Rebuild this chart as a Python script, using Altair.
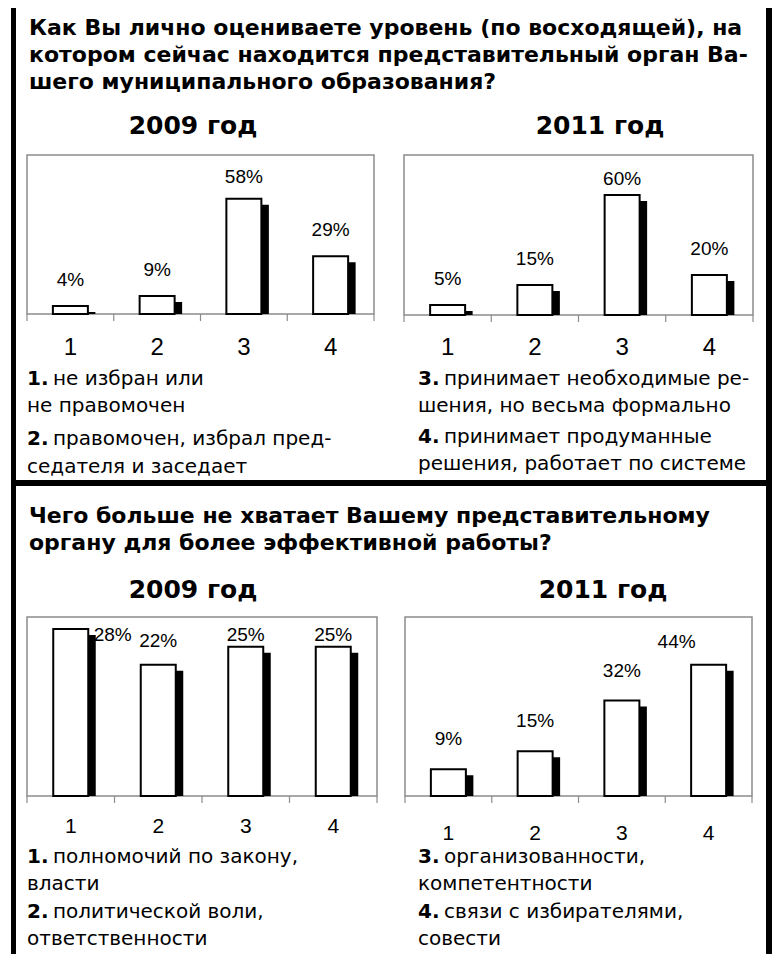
import altair as alt
import pandas as pd

# ---------------- data ----------------
cats = ["1", "2", "3", "4"]
level_2009 = [4, 9, 58, 29]
level_2011 = [5, 15, 60, 20]
lack_2009 = [28, 22, 25, 25]
lack_2011 = [9, 15, 32, 44]

title_top = [
    "Как Вы лично оцениваете уровень (по восходящей), на",
    "котором сейчас находится представительный орган Ва-",
    "шего муниципального образования?",
]
title_bottom = [
    "Чего больше не хватает Вашему представительному",
    "органу для более эффективной работы?",
]
years = ["2009 год", "2011 год"]
legend_top = [
    ("1.", ["не избран или", "не правомочен"]),
    ("2.", ["правомочен, избрал пред-", "седателя и заседает"]),
    ("3.", ["принимает необходимые ре-", "шения, но весьма формально"]),
    ("4.", ["принимает продуманные", "решения, работает по системе"]),
]
legend_bottom = [
    ("1.", ["полномочий по закону,", "власти"]),
    ("2.", ["политической воли,", "ответственности"]),
    ("3.", ["организованности,", "компетентности"]),
    ("4.", ["связи с избирателями,", "совести"]),
]

# ---------------- layout helpers ----------------
OX, OY = 8, 8  # page margin
W, H = 766, 946
BOLD = "DejaVu Sans"
REG = "DejaVu Sans"
NUM = "Liberation Sans"
ONE = alt.Data(values=[{}])


def T(txt, x, y, size, weight="normal", font=REG, align="left"):
    return alt.Chart(ONE).mark_text(
        text=txt, align=align, baseline="alphabetic", font=font,
        fontSize=size, fontWeight=weight, color="black"
    ).encode(x=alt.value(x - OX), y=alt.value(y - OY))


def line(x1, y1, x2, y2, w, color="black"):
    return alt.Chart(ONE).mark_rule(color=color, strokeWidth=w).encode(
        x=alt.value(x1 - OX), y=alt.value(y1 - OY),
        x2=alt.value(x2 - OX), y2=alt.value(y2 - OY))


def legend(items, x, baselines, size=20):
    out = []
    for (num, lines), (b1, b2) in zip(items, baselines):
        out.append(T(num, x, b1, size, weight="bold", font=BOLD))
        out.append(T(lines[0], x + 26, b1, size))
        out.append(T(lines[1], x, b2, size))
    return out


def panel(values, x0, x1, top, bottom, ymax, off_u, clamp_u, shift_thresh,
          shift_dx, axis_size, axis_base):
    df = pd.DataFrame({"c": cats, "v": values})
    base = alt.Chart(df)
    ppu = (bottom - top) / ymax
    xs = alt.Scale(type="band", domain=cats, range=[x0 - OX, x1 - OX],
                   paddingInner=0, paddingOuter=0)
    ys = alt.Scale(domain=[0, ymax], range=[bottom - OY, top - OY],
                   nice=False, zero=True)
    X = alt.X("c:N", scale=xs, axis=None)
    Y = alt.Y("v:Q", scale=ys, axis=None)

    frame = alt.Chart(ONE).mark_rect(
        filled=False, stroke="#8c8c8c", strokeWidth=1.5
    ).encode(x=alt.value(x0 - OX), x2=alt.value(x1 - OX),
             y=alt.value(top - OY), y2=alt.value(bottom - OY))
    ticks = base.mark_rule(color="#8c8c8c", strokeWidth=1.2).encode(
        x=alt.X("c:N", scale=xs, axis=None, bandPosition=0),
        y=alt.value(bottom - OY), y2=alt.value(bottom + 7 - OY))
    tick_end = base.transform_filter("datum.c == '4'").mark_rule(
        color="#8c8c8c", strokeWidth=1.2).encode(
        x=alt.X("c:N", scale=xs, axis=None, bandPosition=1),
        y=alt.value(bottom - OY), y2=alt.value(bottom + 7 - OY))
    shadow = base.transform_calculate(
        sh=f"max(datum.v - {6 / ppu}, 0)"
    ).mark_bar(width=36, xOffset=7, color="black").encode(
        x=X, y=alt.Y("sh:Q", scale=ys, axis=None))
    bars = base.mark_bar(width=35, fill="white", stroke="black", strokeWidth=2).encode(x=X, y=Y)
    lab = base.transform_calculate(
        ly=f"min(datum.v + {off_u}, {clamp_u})", lab="datum.v + '%'")
    labels = lab.transform_filter(f"datum.v <= {shift_thresh}").mark_text(
        font=NUM, fontSize=19, align="center", baseline="alphabetic", color="black"
    ).encode(x=X, y=alt.Y("ly:Q", scale=ys, axis=None), text="lab:N")
    labels_shift = lab.transform_filter(f"datum.v > {shift_thresh}").mark_text(
        font=NUM, fontSize=19, align="center", baseline="alphabetic", color="black",
        dx=shift_dx
    ).encode(x=X, y=alt.Y("ly:Q", scale=ys, axis=None), text="lab:N")
    axis_labels = base.mark_text(
        font=NUM, fontSize=axis_size, align="center", baseline="alphabetic", color="black"
    ).encode(x=X, y=alt.value(axis_base - OY), text="c:N")
    return alt.layer(frame, ticks, tick_end, shadow, bars, labels, labels_shift, axis_labels)


decor = [
    line(13.5, 0, 13.5, 970, 5),
    line(769, 0, 769, 970, 6),
    line(11, 483, 772, 483, 6),
]
texts = []
for i, t in enumerate(title_top):
    texts.append(T(t, 29, 35 + 27 * i, 22, weight="bold", font=BOLD))
for i, t in enumerate(title_bottom):
    texts.append(T(t, 29, 523 + 27 * i, 22, weight="bold", font=BOLD))
texts.append(T(years[0], 193, 134, 25, weight="bold", font=BOLD, align="center"))
texts.append(T(years[1], 600, 134, 25, weight="bold", font=BOLD, align="center"))
texts.append(T(years[0], 193, 598, 25, weight="bold", font=BOLD, align="center"))
texts.append(T(years[1], 603, 598, 25, weight="bold", font=BOLD, align="center"))

texts += legend(legend_top[:2], 27, [(385, 412), (445, 473)])
texts += legend(legend_top[2:], 418, [(385, 412), (443, 470)])
texts += legend(legend_bottom[:2], 27, [(863, 890), (918, 945)])
texts += legend(legend_bottom[2:], 418, [(863, 890), (918, 945)])

p1 = panel(level_2009, 27, 374, 155, 314, 80, 10, 66, 65.5, 42, 24, 355)
p2 = panel(level_2011, 404, 753, 155, 315, 80, 10, 65, 64.5, 42, 24, 355)
p3 = panel(lack_2009, 27, 377, 617, 796, 30, 3, 25.9, 25.4, 42, 21, 833)
p4 = panel(lack_2011, 405, 752, 617, 796, 60, 8, 49.6, 41.6, -32, 21, 840)

chart = alt.layer(*decor, *texts, p1, p2, p3, p4).resolve_scale(
    x="independent", y="independent"
).properties(
    width=W, height=H, autosize=alt.AutoSizeParams(type="none"), padding=0,
    background="white"
).configure_view(stroke=None)

chart.save("out.html", embed_options={"renderer": "svg", "actions": False})
